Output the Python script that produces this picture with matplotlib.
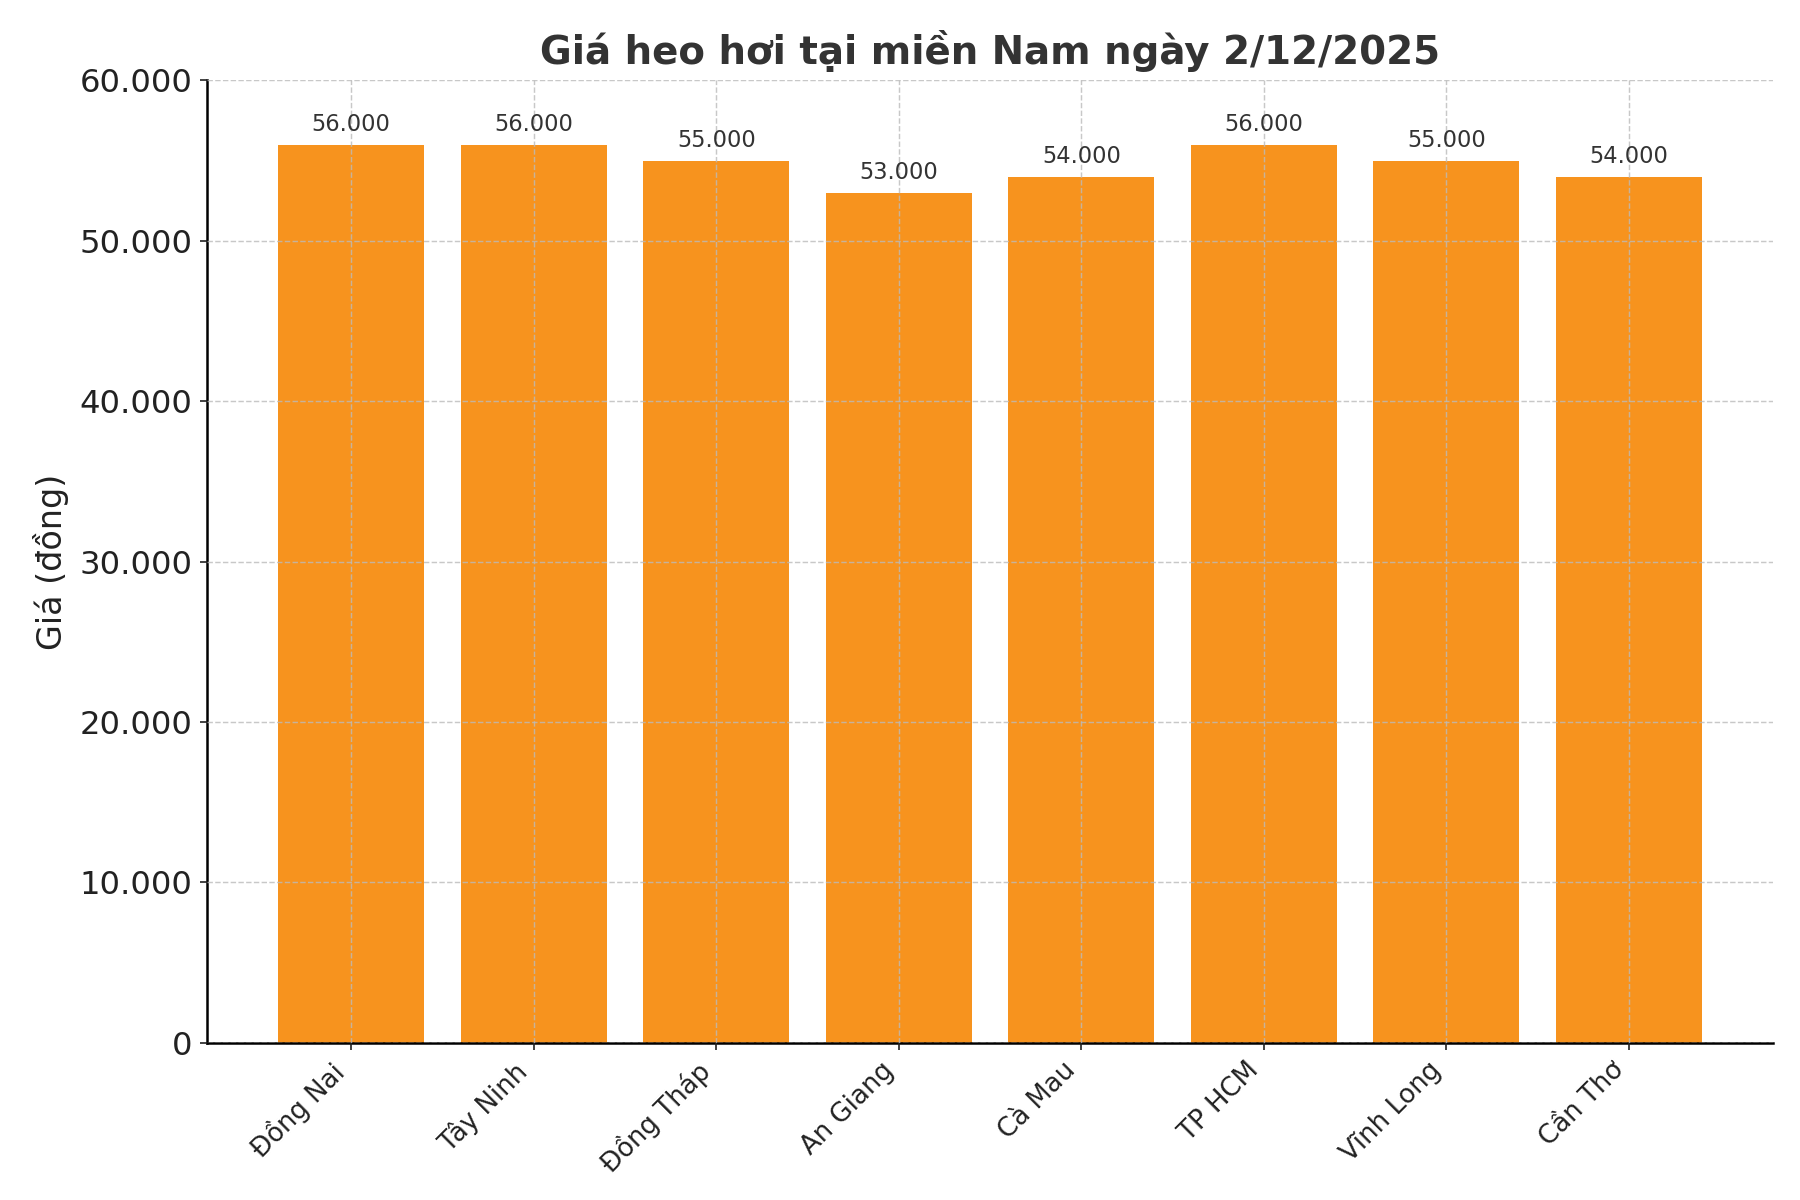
import matplotlib
matplotlib.use("Agg")
import matplotlib.pyplot as plt
from matplotlib.ticker import FuncFormatter

# Dữ liệu giá heo hơi
provinces = ["Đồng Nai", "Tây Ninh", "Đồng Tháp", "An Giang",
             "Cà Mau", "TP HCM", "Vĩnh Long", "Cần Thơ"]
prices = [56000, 56000, 55000, 53000, 54000, 56000, 55000, 54000]
y_ticks = [0, 10000, 20000, 30000, 40000, 50000, 60000]


def dot_thousands(v, pos=None):
    return f"{int(v):,}".replace(",", ".")


fig, ax = plt.subplots(figsize=(12, 8), dpi=150)
fig.subplots_adjust(left=0.115, right=0.985, top=0.933, bottom=0.131)

bars = ax.bar(provinces, prices, width=0.8, color="#F7931E")

ax.bar_label(bars, labels=[dot_thousands(p) for p in prices],
             padding=4, fontsize=10.8, color="#333333")

ax.set_ylim(0, 60000)
ax.set_yticks(y_ticks)
ax.yaxis.set_major_formatter(FuncFormatter(dot_thousands))
ax.tick_params(axis="y", labelsize=15.5, colors="#222222")
ax.tick_params(axis="x", labelsize=12.5, colors="#222222")
plt.setp(ax.get_xticklabels(), rotation=45, ha="right")

ax.set_ylabel("Giá (đồng)", fontsize=16, color="#222222", labelpad=5)
ax.set_title("Giá heo hơi tại miền Nam ngày 2/12/2025",
             fontsize=18.6, fontweight="bold", color="#333333", pad=8)

# Lưới nét đứt nằm trên cột
ax.set_axisbelow(False)
ax.grid(True, linestyle="--", linewidth=0.7, color="#bbbbbb", alpha=0.8)

ax.spines["top"].set_visible(False)
ax.spines["right"].set_visible(False)
ax.spines["left"].set_linewidth(1.2)
ax.spines["bottom"].set_linewidth(1.2)

plt.savefig("out.png", dpi=150)
